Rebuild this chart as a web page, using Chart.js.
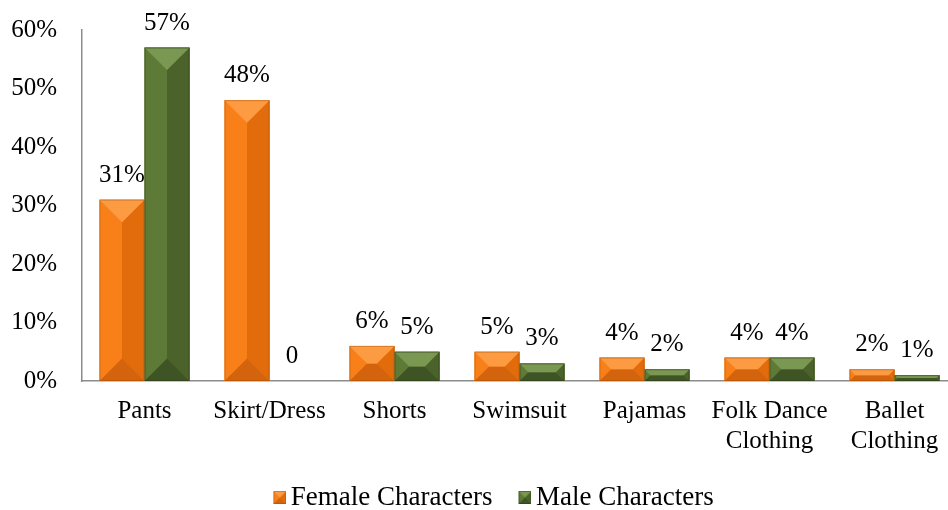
<!DOCTYPE html>
<html>
<head>
<meta charset="utf-8">
<script src="https://cdn.jsdelivr.net/npm/chart.js@4.4.0/dist/chart.umd.min.js"></script>
<style>
html, body { margin: 0; padding: 0; background: #fff; overflow: hidden; }
canvas { display: block; }
</style>
</head>
<body>
<canvas id="oblacila" width="990" height="510"></canvas>
<script>
const kategorije = ['Pants', 'Skirt/Dress', 'Shorts', 'Swimsuit', 'Pajamas', ['Folk Dance', 'Clothing'], ['Ballet', 'Clothing']];
const zenski_liki = [31, 48, 6, 5, 4, 4, 2];
const moski_liki = [57, 0, 5, 3, 2, 4, 1];
const oznake_y = ['0%', '10%', '20%', '30%', '40%', '50%', '60%'];

const oranzna = { zgoraj: '#fd9b42', levo: '#f98019', desno: '#e26b0b', spodaj: '#d3630c', rob: 'rgba(150, 70, 0, 0.35)' };
const zelena = { zgoraj: '#7a9852', levo: '#5e7a37', desno: '#4b632b', spodaj: '#3f5424', rob: 'rgba(40, 55, 20, 0.45)' };
const pisava = 'Liberation Serif';
const crta_osi = '#8c8c8c';

function poligon(ctx, tocke, barva) {
    ctx.beginPath();
    ctx.moveTo(tocke[0][0], tocke[0][1]);
    for (let i = 1; i < tocke.length; i++) ctx.lineTo(tocke[i][0], tocke[i][1]);
    ctx.closePath();
    ctx.fillStyle = barva;
    ctx.fill();
}

// stolpec z robom (bevel): zgoraj svetlo, levo/desno, spodaj temno
function narisi_bevel(ctx, x0, y0, x1, y1, b) {
    const w = x1 - x0, h = y1 - y0;
    if (w <= 0 || h <= 0) return;
    const d = Math.min(w, h) / 2;
    ctx.save();
    ctx.fillStyle = b.levo;
    ctx.fillRect(x0, y0, w, h);
    poligon(ctx, [[x1, y0], [x1 - d, y0 + d], [x1 - d, y1 - d], [x1, y1]], b.desno);
    poligon(ctx, [[x0, y1], [x1, y1], [x1 - d, y1 - d], [x0 + d, y1 - d]], b.spodaj);
    poligon(ctx, [[x0, y0], [x1, y0], [x1 - d, y0 + d], [x0 + d, y0 + d]], b.zgoraj);
    ctx.strokeStyle = b.rob;
    ctx.lineWidth = 1;
    ctx.strokeRect(x0 + 0.5, y0 + 0.5, w - 1, h - 1);
    ctx.restore();
}

// kvadratek za legendo; levo prazen rob, da je besedilo bliže znaku
function oznacevalec(b) {
    const c = document.createElement('canvas');
    c.width = 19;
    c.height = 13;
    narisi_bevel(c.getContext('2d'), 6, 0, 19, 13, b);
    return c;
}
const oznacevalci = [oznacevalec(oranzna), oznacevalec(zelena)];
const barve_stolpcev = [oranzna, zelena];

const bevel_vticnik = {
    id: 'bevel',
    afterDatasetsDraw(chart) {
        const ctx = chart.ctx;
        chart.data.datasets.forEach((ds, i) => {
            chart.getDatasetMeta(i).data.forEach((stolpec) => {
                const p = stolpec.getProps(['x', 'y', 'base', 'width'], true);
                const top = Math.min(p.y, p.base), bot = Math.max(p.y, p.base);
                narisi_bevel(ctx, p.x - p.width / 2, top, p.x + p.width / 2, bot, barve_stolpcev[i]);
            });
        });
        // vrednosti nad stolpci
        ctx.save();
        ctx.font = '25px "' + pisava + '"';
        ctx.fillStyle = '#000';
        ctx.textAlign = 'center';
        ctx.textBaseline = 'alphabetic';
        chart.data.datasets.forEach((ds, i) => {
            chart.getDatasetMeta(i).data.forEach((stolpec, j) => {
                const v = ds.data[j];
                const besedilo = v === 0 ? '0' : v + '%';
                ctx.fillText(besedilo, stolpec.x, Math.min(stolpec.y, stolpec.base) - 18);
            });
        });
        ctx.restore();
    }
};

const platno = document.getElementById('oblacila').getContext('2d');
const graf = new Chart(platno, {
    type: 'bar',
    data: {
        labels: kategorije,
        datasets: [{
            label: 'Female Characters',
            data: zenski_liki,
            backgroundColor: oranzna.levo,
            borderWidth: 0,
            categoryPercentage: 0.72,
            barPercentage: 1.0
        }, {
            label: 'Male Characters',
            data: moski_liki,
            backgroundColor: zelena.levo,
            borderWidth: 0,
            categoryPercentage: 0.72,
            barPercentage: 1.0
        }]
    },
    options: {
        responsive: false,
        animation: false,
        layout: { padding: { left: 0, top: 30, right: 0, bottom: 0 } },
        plugins: {
            tooltip: { enabled: false },
            legend: {
                position: 'bottom',
                maxHeight: 55,
                labels: {
                    usePointStyle: true,
                    pointStyleWidth: 1,
                    padding: 29,
                    color: '#000',
                    font: { family: pisava, size: 27 },
                    generateLabels(chart) {
                        const items = Chart.defaults.plugins.legend.labels.generateLabels(chart);
                        items.forEach((it, i) => { it.pointStyle = oznacevalci[i]; });
                        return items;
                    }
                }
            }
        },
        scales: {
            x: {
                grid: { display: false, drawTicks: false },
                border: { display: true, color: crta_osi, width: 1.5 },
                ticks: {
                    color: '#000',
                    font: { family: pisava, size: 25 },
                    padding: 15,
                    maxRotation: 0,
                    autoSkip: false
                },
                afterFit(s) { s.height = 74; }
            },
            y: {
                min: 0,
                max: 60,
                grid: { display: false, drawTicks: false },
                border: { display: true, color: crta_osi, width: 1.5 },
                ticks: {
                    stepSize: 10,
                    padding: 25,
                    color: '#000',
                    font: { family: pisava, size: 25 },
                    callback: (v) => oznake_y[v / 10]
                },
                afterFit(s) {
                    s.width = 82;
                    s.paddingTop = 0;
                    s.paddingBottom = 0;
                }
            },
            // prazen prostor desno, da legenda ostane na sredini celega platna
            desno: {
                type: 'linear',
                position: 'right',
                grid: { display: false, drawTicks: false },
                border: { display: false },
                ticks: { display: false },
                afterFit(s) { s.width = 33; }
            }
        }
    },
    plugins: [bevel_vticnik]
});
</script>
</body>
</html>
